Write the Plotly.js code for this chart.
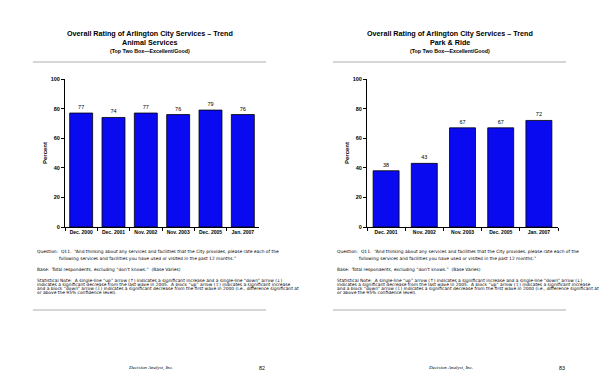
<!DOCTYPE html>
<html>
<head>
<meta charset="utf-8">
<script src="https://cdn.plot.ly/plotly-3.0.1.min.js"></script>
<style>html,body{margin:0;padding:0;background:#fff;}#chart{width:600px;height:388px;}</style>
</head>
<body>
<div id="chart"></div>
<script>
// ---- data ----
var leftTitle = "Overall Rating of Arlington City Services \u2013 Trend";
var leftSubject = "Animal Services";
var rightSubject = "Park & Ride";
var subtitle = "(Top Two Box\u2014Excellent/Good)";
var animalCategories = ["Dec. 2000", "Dec. 2001", "Nov. 2002", "Nov. 2003", "Dec. 2005", "Jan. 2007"];
var animalValues = [77, 74, 77, 76, 79, 76];
var parkCategories = ["Dec. 2001", "Nov. 2002", "Nov. 2003", "Dec. 2005", "Jan. 2007"];
var parkValues = [38, 43, 67, 67, 72];
var yTickValues = [0, 20, 40, 60, 80, 100];
var yAxisLabel = "Percent";
var questionLine1 = "Question:  Q11.  \u201CAnd thinking about any services and facilities that the City provides, please rate each of the";
var questionLine2 = "following services and facilities you have used or visited in the past 12 months.\u201D";
var baseLine = "Base:  Total respondents, excluding \u201Cdon\u2019t knows.\u201D  (Base Varies)";
var noteLines = [
  "Statistical Note:  A single-line \u201Cup\u201D arrow (\u2191) indicates a significant increase and a single-line \u201Cdown\u201D arrow (\u2193)",
  "indicates a significant decrease from the last wave in 2005.  A block \u201Cup\u201D arrow (\u21E7) indicates a significant increase",
  "and a block \u201Cdown\u201D arrow (\u21E9) indicates a significant decrease from the first wave in 2000 (i.e., difference significant at",
  "or above the 95% confidence level)."
];
var footerText = "Decision Analyst, Inc.";
var pageNumbers = ["82", "83"];

// ---- layout helpers ----
var W = 600, H = 388;
function px(x){ return x / W; }
function py(y){ return 1 - y / H; }
var FONT = "Liberation Sans, Arial, sans-serif";
var SMALL = "DejaVu Sans, sans-serif";
var barColor = "#0a0af0";

function barTrace(cats, vals, xa, ya, width){
  return {
    type: "bar", x: cats, y: vals, xaxis: xa, yaxis: ya,
    marker: {color: barColor, line: {color: "#000", width: 0.8}},
    text: vals.map(String), textposition: "outside", cliponaxis: false,
    textfont: {family: FONT, size: 5.5, color: "#000"},
    hoverinfo: "none", width: width
  };
}

var data = [
  barTrace(animalCategories, animalValues, "x", "y", 0.71),
  barTrace(parkCategories, parkValues, "x2", "y2", 0.68)
];

function xaxisDef(d0, d1, anchor){
  return {
    domain: [px(d0), px(d1)], anchor: anchor, type: "category",
    showline: true, linecolor: "#000", linewidth: 1,
    ticks: "outside", ticklen: 3, tickcolor: "#000", tickson: "boundaries",
    tickangle: 0, automargin: false,
    tickfont: {family: FONT, size: 5, color: "#000", weight: "bold"},
    showgrid: false, zeroline: false, fixedrange: true
  };
}
function yaxisDef(anchor){
  return {
    domain: [py(227), py(79)], anchor: anchor, range: [0, 100],
    tickvals: yTickValues, showline: true, linecolor: "#000", linewidth: 1,
    ticks: "outside", ticklen: 3, tickcolor: "#000",
    tickfont: {family: FONT, size: 5.5, color: "#000", weight: "bold"},
    showgrid: false, zeroline: false, fixedrange: true,
    title: {text: yAxisLabel, font: {family: FONT, size: 6, color: "#000", weight: "bold"}, standoff: 2}
  };
}

var annotations = [];
var shapes = [];
function addText(text, x, y, size, opts){
  opts = opts || {};
  annotations.push(Object.assign({
    text: text, xref: "paper", yref: "paper", x: px(x), y: py(y),
    xanchor: "center", yanchor: "middle", showarrow: false,
    font: {family: FONT, size: size, color: "#000"}
  }, opts));
}
function addSmall(text, x, y){
  addText(text, x, y, 4.4, {xanchor: "left", font: {family: SMALL, size: 4.4, color: "#000"}});
}

[0, 300].forEach(function(off, i){
  var cx = 150 + off;
  addText("<b>" + leftTitle + "</b>", cx, 33, 7.2);
  addText("<b>" + (i === 0 ? leftSubject : rightSubject) + "</b>", cx, 42, 7.2);
  addText("<b>" + subtitle + "</b>", cx, 51, 5.3);
  shapes.push({type: "line", xref: "paper", yref: "paper", x0: px(33 + off), x1: px(266 + off), y0: py(62), y1: py(62), line: {color: "#c8c8c8", width: 1.5}});
  shapes.push({type: "line", xref: "paper", yref: "paper", x0: px(33 + off), x1: px(266 + off), y0: py(310), y1: py(310), line: {color: "#c8c8c8", width: 1.5}});
  addSmall(questionLine1, 35 + off, 251.5);
  addSmall(questionLine2, 57 + off, 258);
  addSmall(baseLine, 35 + off, 269);
  noteLines.forEach(function(l, k){
    addSmall(l, 35 + off, 280.5 + k * 4.1);
  });
  addText("<i>" + footerText + "</i>", 150 + off, 367.5, 5, {font: {family: "Liberation Serif, Times New Roman, serif", size: 5, color: "#000"}});
  addText(pageNumbers[i], 262 + off, 367.5, 5.3);
});

var layout = {
  width: W, height: H, margin: {l: 0, r: 0, t: 0, b: 0},
  paper_bgcolor: "#fff", plot_bgcolor: "#fff", showlegend: false,
  bargap: 0.29,
  xaxis: xaxisDef(65, 259, "y"),
  yaxis: yaxisDef("x"),
  xaxis2: xaxisDef(367, 558, "y2"),
  yaxis2: yaxisDef("x2"),
  annotations: annotations, shapes: shapes
};

Plotly.newPlot("chart", data, layout, {staticPlot: true, displayModeBar: false});
</script>
</body>
</html>
